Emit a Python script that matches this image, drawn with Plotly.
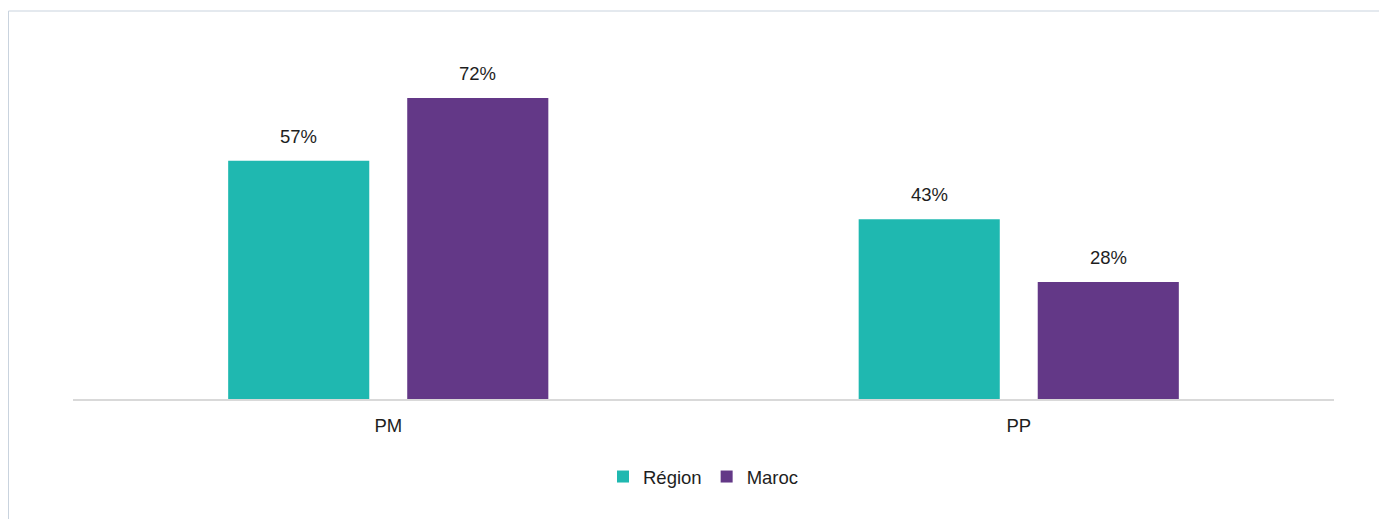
import plotly.graph_objects as go

categories = ["PM", "PP"]
region_values = [0.57, 0.43]
maroc_values = [0.72, 0.28]
series_names = ["Région", "Maroc"]

COL_REGION = "#1FB8B0"
COL_MAROC = "#633887"
FONT = "Liberation Sans, Arial, sans-serif"
TXT = "#1e1e1e"

W, H = 1387, 519
ML, MR, MT, MB = 65, 61, 32, 128
BARGAP = 0.432
BARGROUPGAP = 0.212

fig = go.Figure()
fig.add_trace(go.Bar(name=series_names[0], x=categories, y=region_values,
                     marker=dict(color=COL_REGION, line=dict(width=0))))
fig.add_trace(go.Bar(name=series_names[1], x=categories, y=maroc_values,
                     marker=dict(color=COL_MAROC, line=dict(width=0))))

plot_w = W - ML - MR
plot_h = H - MT - MB
slot_px = plot_w / len(categories) * (1 - BARGAP) / 2
for vals, sign in ((region_values, -1), (maroc_values, 1)):
    for c, v in zip(categories, vals):
        fig.add_annotation(x=c, y=v, xref="x", yref="y", text=f"{round(v*100)}%",
                           showarrow=False, xshift=sign * slot_px / 2, yshift=12,
                           yanchor="bottom",
                           font=dict(family=FONT, size=18.5, color=TXT))

# outer frame
fig.add_shape(type="rect", xref="paper", yref="paper",
              x0=(0.5 - ML) / plot_w, x1=1.2,
              y0=-1.0, y1=(H - MB - 3) / plot_h,
              line=dict(color="#c9d3de", width=1), fillcolor="rgba(0,0,0,0)", layer="below")

fig.update_layout(
    width=W, height=H,
    margin=dict(l=ML, r=MR, t=MT, b=MB, pad=0),
    paper_bgcolor="white", plot_bgcolor="white",
    barmode="group", bargap=BARGAP, bargroupgap=BARGROUPGAP,
    font=dict(family=FONT, size=18.5, color=TXT),
    showlegend=True,
    legend=dict(orientation="h", x=0.5, xanchor="center", y=-78 / plot_h, yanchor="middle",
                font=dict(family=FONT, size=18.5, color=TXT),
                itemwidth=30, tracegroupgap=0, bgcolor="rgba(0,0,0,0)"),
    xaxis=dict(showline=True, linecolor="#d9d9d9", linewidth=2, ticks="",
               showgrid=False, zeroline=False, ticklabelstandoff=9,
               tickfont=dict(family=FONT, size=18.5, color=TXT)),
    yaxis=dict(range=[0, plot_h / 418], visible=False, showgrid=False, zeroline=False),
)

fig.write_html("out.html")
